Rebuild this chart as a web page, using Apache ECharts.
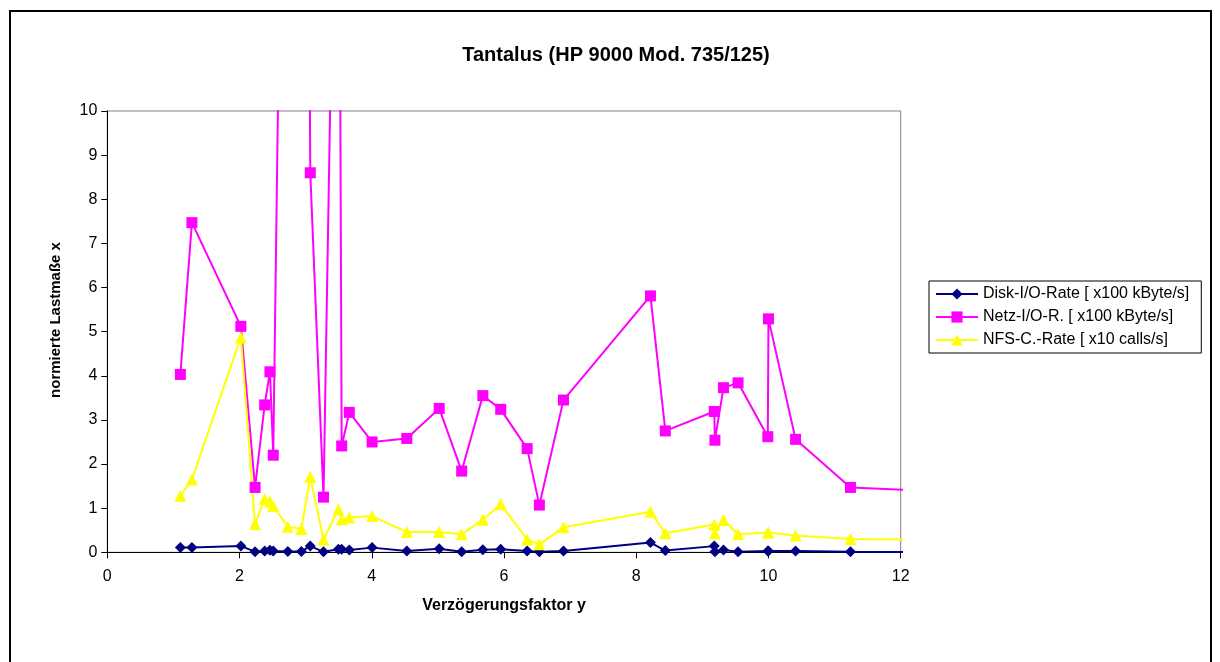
<!DOCTYPE html>
<html>
<head>
<meta charset="utf-8">
<script src="https://cdn.jsdelivr.net/npm/echarts@6/dist/echarts.min.js"></script>
<style>
html,body{margin:0;padding:0;background:#fff;}
#chart{width:1220px;height:662px;}
</style>
</head>
<body>
<div id="chart"></div>
<script>
// Measurement x positions (Verzögerungsfaktor y), in data order
var xValues = [1.105, 1.28, 2.02, 2.235, 2.38, 2.46, 2.51, 2.73, 2.935, 3.07, 3.27, 3.495, 3.545, 3.66,
  4.005, 4.53, 5.02, 5.36, 5.68, 5.95, 6.35, 6.535, 6.90, 8.215, 8.44, 9.18, 9.19, 9.32, 9.54, 9.99, 10.0, 10.41, 11.24, 12.12];
var diskRate = [0.11, 0.11, 0.14, 0.015, 0.03, 0.045, 0.03, 0.02, 0.02, 0.14, 0.01, 0.07, 0.07, 0.05,
  0.106, 0.03, 0.083, 0.015, 0.06, 0.068, 0.03, 0.015, 0.03, 0.22, 0.04, 0.14, 0.015, 0.05, 0.015, 0.03, 0.03, 0.03, 0.015, 0.005];
var netzRate = [4.03, 7.47, 5.12, 1.47, 3.34, 4.09, 2.20, 26.6, 45, 8.60, 1.25, 21, 2.41, 3.17,
  2.50, 2.58, 3.26, 1.84, 3.55, 3.24, 2.35, 1.07, 3.45, 5.81, 2.75, 3.19, 2.54, 3.73, 3.84, 2.62, 5.29, 2.56, 1.47, 1.41];
var nfsRate = [1.28, 1.65, 4.87, 0.64, 1.21, 1.15, 1.05, 0.58, 0.53, 1.71, 0.29, 0.97, 0.75, 0.79,
  0.82, 0.46, 0.46, 0.41, 0.74, 1.09, 0.29, 0.18, 0.57, 0.92, 0.43, 0.63, 0.43, 0.73, 0.41, 0.45, 0.45, 0.38, 0.30, 0.29];
var seriesNames = ['Disk-I/O-Rate [ x100 kByte/s]', 'Netz-I/O-R. [ x100 kByte/s]', 'NFS-C.-Rate [ x10 calls/s]'];
var titleText = 'Tantalus (HP 9000 Mod. 735/125)';
var xAxisName = 'Verzögerungsfaktor y';
var yAxisName = 'normierte Lastmaße x';

function pairs(ys) { return xValues.map(function (x, i) { return [x, ys[i]]; }); }

var FONT = '"Liberation Sans", Arial, sans-serif';
var chart = echarts.init(document.getElementById('chart'), null, { renderer: 'canvas' });
chart.setOption({
  animation: false,
  backgroundColor: '#ffffff',
  textStyle: { fontFamily: FONT },
  graphic: [
    { type: 'rect', shape: { x: 10, y: 11, width: 1201, height: 700 },
      style: { fill: 'none', stroke: '#000', lineWidth: 2 }, silent: true },
    { type: 'text', x: 616, y: 55,
      style: { text: titleText, font: 'bold 20px ' + FONT, fill: '#000', align: 'center', verticalAlign: 'middle' } },
    { type: 'text', x: 56, y: 320, rotation: Math.PI / 2,
      style: { text: yAxisName, font: 'bold 15px ' + FONT, fill: '#000', align: 'center', verticalAlign: 'middle' } }
  ],
  grid: { left: 107.3, right: 319.3, top: 111, bottom: 109.7, show: true, borderColor: '#808080', borderWidth: 1, containLabel: false },
  legend: {
    orient: 'vertical', left: 929, top: 281,
    padding: [5, 12, 5, 6], itemGap: 7, itemWidth: 42, itemHeight: 14,
    borderColor: '#000', borderWidth: 1, backgroundColor: '#fff',
    textStyle: { fontFamily: FONT, fontSize: 16, color: '#000' },
    data: seriesNames
  },
  xAxis: {
    type: 'value', min: 0, max: 12, interval: 2,
    name: xAxisName, nameLocation: 'middle', nameGap: 45,
    nameTextStyle: { fontFamily: FONT, fontSize: 16, fontWeight: 'bold', color: '#000' },
    axisLine: { show: true, onZero: false, lineStyle: { color: '#000', width: 1 } },
    axisTick: { show: true, inside: false, length: 6, lineStyle: { color: '#000' } },
    axisLabel: { fontFamily: FONT, fontSize: 16, color: '#000', margin: 16 },
    splitLine: { show: false }
  },
  yAxis: {
    type: 'value', min: 0, max: 10, interval: 1,
    axisLine: { show: true, onZero: false, lineStyle: { color: '#000', width: 1 } },
    axisTick: { show: true, inside: false, length: 6, lineStyle: { color: '#000' } },
    axisLabel: { fontFamily: FONT, fontSize: 16, color: '#000', margin: 10 },
    splitLine: { show: false }
  },
  series: [
    { name: seriesNames[0], type: 'line', data: pairs(diskRate), clip: true,
      symbol: 'diamond', symbolSize: 11, showAllSymbol: true,
      itemStyle: { color: '#000080' }, lineStyle: { color: '#000080', width: 2 } },
    { name: seriesNames[1], type: 'line', data: pairs(netzRate), clip: true,
      symbol: 'rect', symbolSize: 11, showAllSymbol: true,
      itemStyle: { color: '#ff00ff' }, lineStyle: { color: '#ff00ff', width: 2 } },
    { name: seriesNames[2], type: 'line', data: pairs(nfsRate), clip: true,
      symbol: 'triangle', symbolSize: 12, showAllSymbol: true,
      itemStyle: { color: '#ffff00' }, lineStyle: { color: '#ffff00', width: 2 } }
  ]
});
</script>
</body>
</html>
